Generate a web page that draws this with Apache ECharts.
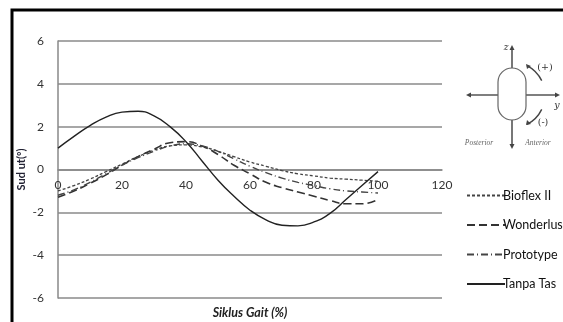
<!DOCTYPE html>
<html>
<head>
<meta charset="utf-8">
<script src="https://cdn.jsdelivr.net/npm/echarts@6/dist/echarts.min.js"></script>
<style>
html,body{margin:0;padding:0;background:#fff;}
#chart{width:563px;height:322px;}
</style>
</head>
<body>
<div id="chart"></div>
<script>
// ---- data ----
const gaitCycle = [0, 5, 10, 15, 20, 25, 30, 35, 40, 45, 50, 55, 60, 65, 70, 75, 80, 85, 90, 95, 100];
const bioflex   = [-1.0, -0.75, -0.45, -0.1, 0.25, 0.6, 0.9, 1.1, 1.15, 1.05, 0.85, 0.6, 0.35, 0.15, -0.05, -0.2, -0.3, -0.4, -0.45, -0.5, -0.55];
const wonderlus = [-1.3, -1.0, -0.65, -0.25, 0.2, 0.6, 0.95, 1.25, 1.3, 1.1, 0.7, 0.2, -0.2, -0.6, -0.85, -1.05, -1.25, -1.45, -1.6, -1.6, -1.4];
const prototype = [-1.2, -0.95, -0.6, -0.2, 0.2, 0.55, 0.85, 1.1, 1.2, 1.1, 0.85, 0.5, 0.15, -0.15, -0.4, -0.6, -0.75, -0.9, -1.0, -1.05, -1.1];
const tanpaTas  = [1.0, 1.55, 2.05, 2.45, 2.68, 2.72, 2.5, 2.0, 1.3, 0.4, -0.5, -1.25, -1.9, -2.35, -2.6, -2.63, -2.45, -2.05, -1.4, -0.75, -0.1];
const seriesNames = ['Bioflex II', 'Wonderlus', 'Prototype', 'Tanpa Tas'];
const xTicks = [0, 20, 40, 60, 80, 100, 120];
const yTicks = [-6, -4, -2, 0, 2, 4, 6];

const pairs = arr => gaitCycle.map((x, i) => [x, arr[i]]);
const FONT = 'Lato, "Open Sans", sans-serif';

const styles = [
  {type: [3, 2], width: 1.3, color: '#444'},
  {type: [8, 4], width: 1.6, color: '#333'},
  {type: [7, 3, 1, 3], width: 1.4, color: '#444'},
  {type: 'solid', width: 1.4, color: '#222'}
];
const datasets = [bioflex, wonderlus, prototype, tanpaTas];

const chart = echarts.init(document.getElementById('chart'), null, {renderer: 'canvas'});
chart.setOption({
  animation: false,
  backgroundColor: '#fff',
  textStyle: {fontFamily: FONT},
  grid: {left: 58, right: 121, top: 41, bottom: 24, containLabel: false, outerBoundsMode: 'none'},
  xAxis: {
    type: 'value', min: xTicks[0], max: xTicks[xTicks.length - 1], interval: 20,
    offset: -128.5,
    name: 'Siklus Gait (%)', nameLocation: 'middle', nameGap: 137, nameMoveOverlap: false,
    nameTextStyle: {fontFamily: FONT, fontSize: 12.5, fontWeight: 'bold', fontStyle: 'italic', color: '#222'},
    axisLine: {onZero: false, lineStyle: {color: '#888', width: 1.5}},
    axisTick: {show: false},
    axisLabel: {fontFamily: FONT, fontSize: 12, color: '#333', margin: 10},
    splitLine: {show: false}
  },
  yAxis: {
    type: 'value', min: yTicks[0], max: yTicks[yTicks.length - 1], interval: 2,
    name: 'Sud ut(º)', nameLocation: 'middle', nameGap: 31, nameMoveOverlap: false,
    nameTextStyle: {fontFamily: FONT, fontSize: 11, fontWeight: 'bold', color: '#223'},
    axisLine: {show: true, onZero: false, lineStyle: {color: '#888', width: 1.5}},
    axisTick: {show: false},
    axisLabel: {fontFamily: FONT, fontSize: 12, color: '#333', margin: 14},
    splitLine: {show: true, lineStyle: {color: '#8a8a8a', width: 1.5}}
  },
  legend: {
    orient: 'vertical', left: 461, top: 184,
    itemWidth: 38, itemHeight: 14, itemGap: 16.5,
    itemStyle: {opacity: 0},
    textStyle: {fontFamily: FONT, fontSize: 12.5, color: '#111', padding: [0, 0, 0, -7]},
    data: seriesNames
  },
  series: seriesNames.map((name, i) => ({
    name: name, type: 'line', smooth: true, symbol: 'none',
    data: pairs(datasets[i]),
    lineStyle: {type: styles[i].type, width: styles[i].width, color: styles[i].color},
    itemStyle: {color: styles[i].color}
  })),
  graphic: [
    {type: 'rect', shape: {x: 12, y: 10, width: 600, height: 400}, style: {fill: 'none', stroke: '#000', lineWidth: 3}, z: 100},
    {type: 'text', x: 274, y: -15, style: {text: '(f)', fontSize: 15, fill: '#000', fontFamily: FONT, align: 'center'}},
    // diagram
    {type: 'line', shape: {x1: 512, y1: 48, x2: 512, y2: 146}, style: {stroke: '#555', lineWidth: 1.6}},
    {type: 'line', shape: {x1: 469, y1: 95, x2: 557, y2: 95}, style: {stroke: '#555', lineWidth: 1.6}},
    {type: 'polygon', shape: {points: [[512, 45], [509.5, 50], [514.5, 50]]}, style: {fill: '#444'}},
    {type: 'polygon', shape: {points: [[512, 149], [509.5, 144], [514.5, 144]]}, style: {fill: '#444'}},
    {type: 'polygon', shape: {points: [[466, 95], [471, 92.5], [471, 97.5]]}, style: {fill: '#444'}},
    {type: 'polygon', shape: {points: [[560, 95], [555, 92.5], [555, 97.5]]}, style: {fill: '#444'}},
    {type: 'rect', shape: {x: 498, y: 68, width: 28, height: 52, r: 14}, style: {fill: '#fff', stroke: '#666', lineWidth: 1.2}},
    {type: 'arc', shape: {cx: 512, cy: 95, r: 33, startAngle: -1.1, endAngle: -0.45, clockwise: true}, style: {stroke: '#444', lineWidth: 1.4, fill: 'none'}},
    {type: 'arc', shape: {cx: 512, cy: 95, r: 33, startAngle: 0.45, endAngle: 1.1, clockwise: true}, style: {stroke: '#444', lineWidth: 1.4, fill: 'none'}},
    {type: 'polygon', shape: {points: [[526, 64], [527, 69], [531, 66]]}, style: {fill: '#444'}},
    {type: 'polygon', shape: {points: [[526, 125], [531, 124], [527, 120]]}, style: {fill: '#444'}},
    {type: 'text', x: 506, y: 43, style: {text: 'z', fontSize: 9, fill: '#333', fontFamily: 'DejaVu Serif', fontStyle: 'italic', align: 'center'}},
    {type: 'text', x: 545, y: 63, style: {text: '(+)', fontSize: 9.5, fill: '#333', fontFamily: 'DejaVu Serif', align: 'center'}},
    {type: 'text', x: 557, y: 101, style: {text: 'y', fontSize: 9.5, fill: '#333', fontFamily: 'DejaVu Serif', fontStyle: 'italic', align: 'center'}},
    {type: 'text', x: 543, y: 118, style: {text: '(-)', fontSize: 9.5, fill: '#333', fontFamily: 'DejaVu Serif', align: 'center'}},
    {type: 'text', x: 479, y: 139, style: {text: 'Posterior', fontSize: 7.5, fill: '#666', fontFamily: 'Liberation Serif', fontStyle: 'italic', align: 'center'}},
    {type: 'text', x: 538, y: 139, style: {text: 'Anterior', fontSize: 7.5, fill: '#666', fontFamily: 'Liberation Serif', fontStyle: 'italic', align: 'center'}}
  ]
});
</script>
</body>
</html>
